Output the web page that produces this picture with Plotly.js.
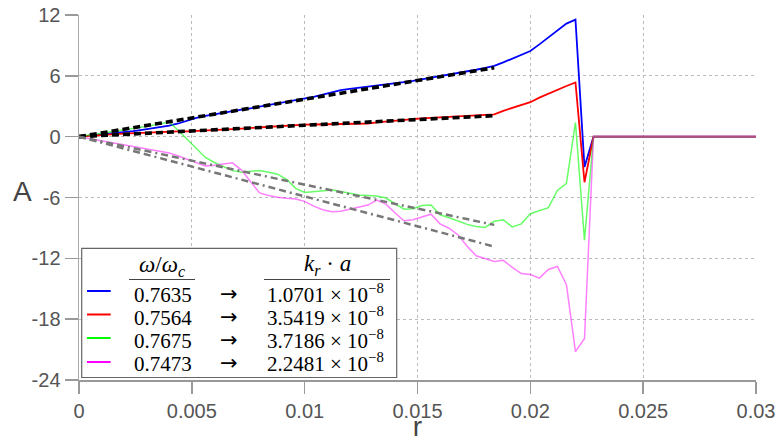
<!DOCTYPE html>
<html>
<head>
<meta charset="utf-8">
<script src="https://cdn.plot.ly/plotly-3.0.1.min.js"></script>
<style>html,body{margin:0;padding:0;background:#fff;}#chart{width:777px;height:442px;}</style>
</head>
<body>
<div id="chart"></div>
<script>
// ---- data ----
var r = [0, 0.0004, 0.0008, 0.0012, 0.0016, 0.002, 0.0024, 0.0028, 0.0032, 0.0036,
         0.004, 0.0044, 0.0048, 0.0052, 0.0056, 0.006, 0.0064, 0.0068, 0.0072, 0.0076,
         0.008, 0.0084, 0.0088, 0.0092, 0.0096, 0.01, 0.0104, 0.0108, 0.0112, 0.0116,
         0.012, 0.0124, 0.0128, 0.0132, 0.0136, 0.014, 0.0144, 0.0148, 0.0152, 0.0156,
         0.016, 0.0164, 0.0168, 0.0172, 0.0176, 0.018, 0.0184, 0.0188, 0.0192, 0.0196,
         0.02, 0.0204, 0.0208, 0.0212, 0.0216, 0.022, 0.0224, 0.0228, 0.03];

var blueA = [0, 0.08, 0.17, 0.26, 0.34, 0.43, 0.55, 0.67, 0.8, 0.93,
             1.08, 1.3, 1.58, 1.85, 2.05, 2.22, 2.38, 2.52, 2.66, 2.8,
             2.95, 3.1, 3.25, 3.4, 3.56, 3.72, 3.92, 4.15, 4.38, 4.58,
             4.72, 4.82, 4.92, 5.02, 5.12, 5.25, 5.38, 5.5, 5.65, 5.8,
             5.95, 6.1, 6.28, 6.45, 6.6, 6.78, 6.98, 7.32, 7.7, 8.05,
             8.45, 9.1, 9.8, 10.5, 11.15, 11.55, -3.0, 0, 0];

var redA = [0, 0.08, 0.15, 0.21, 0.26, 0.3, 0.35, 0.4, 0.44, 0.49,
            0.53, 0.53, 0.53, 0.56, 0.6, 0.65, 0.69, 0.75, 0.8, 0.86,
            0.92, 0.97, 1.02, 1.08, 1.14, 1.19, 1.2, 1.22, 1.23, 1.24,
            1.26, 1.27, 1.3, 1.4, 1.5, 1.6, 1.68, 1.74, 1.8, 1.85,
            1.9, 1.95, 2.0, 2.05, 2.1, 2.15, 2.2, 2.55, 2.85, 3.1,
            3.4, 3.85, 4.25, 4.6, 5.0, 5.35, -4.5, 0, 0];

var greenA = [0, 0.13, 0.26, 0.38, 0.5, 0.62, 0.78, 0.95, 1.1, 1.27,
              1.45, 0.6, -0.3, -1.18, -2.05, -2.55, -2.93, -3.35, -3.5, -3.42,
              -3.33, -3.5, -3.7, -4.2, -5.1, -5.5, -5.4, -5.32, -5.25, -5.4,
              -5.57, -5.75, -5.8, -5.85, -6.05, -6.6, -7.15, -7.1, -6.8, -6.75,
              -7.7, -8.0, -8.3, -8.65, -8.85, -8.95, -8.35, -8.2, -8.9, -8.6,
              -7.6, -7.3, -7.0, -5.3, -4.6, 1.4, -10.2, 0, 0];

var magentaA = [0, -0.16, -0.32, -0.48, -0.64, -0.8, -0.96, -1.12, -1.28, -1.44,
                -1.6, -1.9, -2.22, -2.52, -2.88, -2.82, -2.7, -2.58, -3.3, -4.4,
                -5.55, -5.8, -5.98, -6.08, -6.15, -6.38, -6.85, -7.2, -7.4, -7.35,
                -7.15, -6.98, -6.75, -6.25, -6.65, -7.5, -8.3, -8.2, -7.9, -7.65,
                -8.6, -9.03, -9.7, -10.8, -11.75, -12.05, -12.3, -12.2, -12.9, -13.5,
                -13.6, -13.95, -13.1, -12.8, -14.6, -21.2, -19.9, 0, 0];

// linear fits
var fitR = [0, 0.0184];
var fitBlue = [0, 6.8];
var fitRed = [0, 2.07];
var fitGreen = [0, -8.7];
var fitMagenta = [0, -10.84];

// legend labels
var omegaLabels = ['0.7635', '0.7564', '0.7675', '0.7473'];
var krLabels = ['1.0701 × 10<sup>−8</sup>', '3.5419 × 10<sup>−8</sup>',
                '3.7186 × 10<sup>−8</sup>', '2.2481 × 10<sup>−8</sup>'];
var seriesColors = ['#0000ff', '#ff0000', '#00ff00', '#ff00ff'];

// ticks
var xTickVals = [0, 0.005, 0.01, 0.015, 0.02, 0.025, 0.03];
var xTickText = ['0', '0.005', '0.01', '0.015', '0.02', '0.025', '0.03'];
var yTickVals = [12, 6, 0, -6, -12, -18, -24];
var yTickText = ['12', '6', '0', '-6', '-12', '-18', '-24'];

// ---- traces ----
var grayDash = '7px,4px,7px,4px,2px,4px';
var traces = [
  {x: r, y: blueA, mode: 'lines', line: {color: '#0000ff', width: 1.8}},
  {x: r, y: redA, mode: 'lines', line: {color: '#ff0000', width: 1.8}},
  {x: r, y: greenA, mode: 'lines', line: {color: 'rgba(0,255,0,0.6)', width: 1.5}},
  {x: r, y: magentaA, mode: 'lines', line: {color: 'rgba(255,0,255,0.5)', width: 1.5}},
  {x: fitR, y: fitBlue, mode: 'lines', line: {color: '#000', width: 3.6, dash: '7px,4px'}},
  {x: fitR, y: fitRed, mode: 'lines', line: {color: '#000', width: 3.6, dash: '7px,4px'}},
  {x: fitR, y: fitGreen, mode: 'lines', line: {color: '#777', width: 2.5, dash: grayDash}},
  {x: fitR, y: fitMagenta, mode: 'lines', line: {color: '#777', width: 2.5, dash: grayDash}}
];
traces.forEach(function(t){ t.showlegend = false; t.hoverinfo = 'skip'; });

// ---- legend (drawn in paper coords) ----
var L = 79, T = 15, W = 677, H = 365;
function px(x){ return (x - L) / W; }
function py(y){ return (T + H - y) / H; }

var shapes = [
  {type: 'rect', xref: 'paper', yref: 'paper', layer: 'above',
   x0: px(81.7), x1: px(396.7), y0: py(377.5), y1: py(248.3),
   fillcolor: '#ffffff', line: {color: '#666', width: 1.2}},
  {type: 'line', xref: 'paper', yref: 'paper', layer: 'above',
   x0: px(129), x1: px(195), y0: py(279.5), y1: py(279.5), line: {color: '#444', width: 1}},
  {type: 'line', xref: 'paper', yref: 'paper', layer: 'above',
   x0: px(264), x1: px(390), y0: py(279.5), y1: py(279.5), line: {color: '#444', width: 1}}
];
var rowY = [295, 318, 341, 364];
var sampleY = [291, 314.5, 338, 362];
var serif = 'Liberation Serif, Times New Roman, serif';
var sans = 'Liberation Sans, Arial, sans-serif';
var annotations = [
  {xref: 'paper', yref: 'paper', x: px(162), y: py(266), xanchor: 'center', yanchor: 'middle',
   text: '<i>ω</i>/<i>ω</i><sub><i>c</i></sub>', showarrow: false, font: {family: serif, size: 23, color: '#000'}},
  {xref: 'paper', yref: 'paper', x: px(327), y: py(265), xanchor: 'center', yanchor: 'middle',
   text: '<i>k</i><sub><i>r</i></sub> · <i>a</i>', showarrow: false, font: {family: serif, size: 23, color: '#000'}},
  {xref: 'paper', yref: 'paper', x: px(22), y: py(191), xanchor: 'center', yanchor: 'middle',
   text: 'A', showarrow: false, font: {family: sans, size: 28, color: '#444'}}
];
for (var i = 0; i < omegaLabels.length; i++) {
  shapes.push({type: 'line', xref: 'paper', yref: 'paper', layer: 'above',
    x0: px(87), x1: px(110.7), y0: py(sampleY[i]), y1: py(sampleY[i]),
    line: {color: seriesColors[i], width: 2}});
  annotations.push({xref: 'paper', yref: 'paper', x: px(162.5), y: py(rowY[i]), xanchor: 'center', yanchor: 'middle',
    text: omegaLabels[i], showarrow: false, font: {family: serif, size: 21, color: '#000'}});
  annotations.push({xref: 'paper', yref: 'paper', x: px(228.5), y: py(rowY[i] - 1), xanchor: 'center', yanchor: 'middle',
    text: '→', showarrow: false, font: {family: 'DejaVu Sans, sans-serif', size: 21, color: '#000'}});
  annotations.push({xref: 'paper', yref: 'paper', x: px(265), y: py(rowY[i] - 2), xanchor: 'left', yanchor: 'middle',
    text: krLabels[i], showarrow: false, font: {family: serif, size: 21, color: '#000'}});
}

var tickFont = {family: sans, size: 20, color: '#555'};
var layout = {
  width: 777, height: 442,
  margin: {l: L, r: 777 - L - W, t: T, b: 442 - T - H, pad: 0},
  paper_bgcolor: '#fff', plot_bgcolor: '#fff',
  showlegend: false,
  hovermode: false,
  xaxis: {
    range: [0, 0.03], tickvals: xTickVals, ticktext: xTickText,
    showline: true, linecolor: '#999', linewidth: 1.5,
    ticks: 'outside', ticklen: 12, tickcolor: '#999', tickwidth: 1.5,
    showgrid: true, gridcolor: '#bbb', griddash: 'dot', gridwidth: 1,
    zeroline: false, tickfont: tickFont,
    title: {text: 'r', font: {family: sans, size: 28, color: '#444'}, standoff: 6}
  },
  yaxis: {
    range: [-24, 12], tickvals: yTickVals, ticktext: yTickText,
    showline: true, linecolor: '#aaa', linewidth: 1.5,
    ticks: 'outside', ticklen: 13, tickcolor: '#999', tickwidth: 1.5,
    showgrid: true, gridcolor: '#bbb', griddash: 'dot', gridwidth: 1,
    zeroline: false, tickfont: tickFont
  },
  shapes: shapes,
  annotations: annotations
};

Plotly.newPlot('chart', traces, layout, {staticPlot: true, displayModeBar: false});
</script>
</body>
</html>
